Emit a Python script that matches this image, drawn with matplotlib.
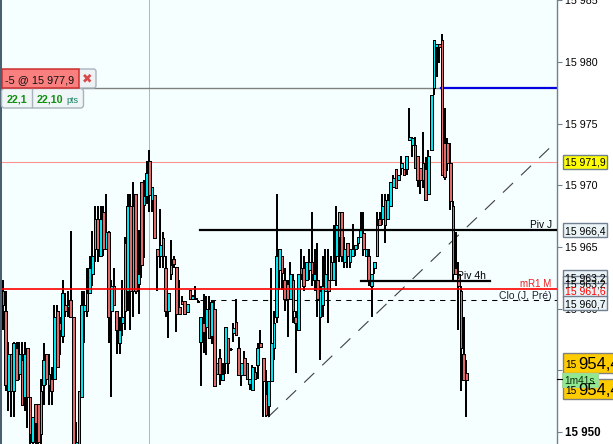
import matplotlib
matplotlib.use("Agg")
import matplotlib.pyplot as plt
import numpy as np
from matplotlib.patches import Rectangle, FancyBboxPatch

# prices are written minus this base
BASE = 15000

opens = [961.4, 959.8, 953.3, 956.3, 953.3, 956.8, 954.7, 955.8, 952.8, 956.8,
         952.8, 949.2, 952.3, 952.3, 949.8, 953.8, 956.3, 954.7, 954.3, 954.3,
         959.8, 958.8, 957.8, 960.3, 960.1, 960.7, 959.3, 948.5, 948.5, 952.8,
         959.8, 959.8, 961.3, 962.8, 964.8, 967.3, 964.3, 967.8, 964.8, 966.2,
         959.8, 961.8, 959.8, 957.2, 958.8, 959.8, 961.4, 968.3, 961.4, 969.3,
         962.0, 970.3, 968.4, 969.1, 972.0, 968.8, 969.2, 964.8, 964.3, 965.7,
         963.3, 959.8, 962.8, 964.0, 963.4, 960.1, 960.6, 960.6, 959.7, 961.5,
         960.8, 960.9, 960.6, 957.3, 958.8, 958.5, 960.0, 957.8, 960.0, 954.7,
         956.0, 954.2, 955.6, 957.6, 956.7, 958.0, 958.9, 956.8, 954.6, 956.0,
         955.6, 953.9, 953.4, 954.9, 955.4, 957.2, 956.0, 953.1, 952.1, 954.1,
         956.8, 959.3, 963.1, 964.3, 962.3, 962.0, 960.8, 962.3, 959.3, 958.3,
         963.3, 963.3, 962.3, 963.1, 963.8, 962.3, 962.3, 959.3, 960.3, 961.4,
         962.3, 962.3, 962.3, 964.3, 965.8, 967.8, 963.8, 965.3, 963.8, 964.3,
         964.8, 965.3, 965.8, 966.1, 964.3, 964.3, 961.8, 963.3, 964.3, 967.3,
         967.3, 968.8, 967.3, 968.3, 969.9, 971.3, 970.4, 971.4, 971.3, 971.3,
         973.7, 973.3, 973.3, 972.4, 971.4, 970.4, 971.3, 969.3, 972.9, 977.9,
         981.2, 981.5, 981.8, 973.4, 973.4, 971.8, 968.3, 963.3, 962.8, 961.4,
         956.3, 954.8]
highs = [962.3, 961.4, 957.3, 956.3, 957.3, 957.3, 957.3, 957.3, 957.3, 956.8,
         952.8, 951.2, 952.3, 952.3, 954.3, 957.2, 956.3, 956.3, 955.3, 960.3,
         960.3, 959.3, 962.3, 961.3, 961.4, 966.3, 959.3, 950.8, 953.3, 961.4,
         961.4, 963.3, 964.3, 966.3, 968.3, 968.3, 968.3, 968.3, 969.3, 966.3,
         962.3, 963.3, 959.8, 959.3, 962.3, 965.8, 969.3, 969.3, 970.3, 969.3,
         966.4, 970.3, 970.4, 972.0, 972.9, 969.9, 969.2, 964.8, 968.1, 966.2,
         964.3, 961.3, 965.6, 964.3, 963.4, 962.3, 961.0, 960.6, 960.4, 961.5,
         961.1, 961.8, 960.7, 959.3, 961.2, 961.0, 961.0, 960.6, 960.6, 955.6,
         956.7, 955.6, 958.5, 957.6, 956.8, 958.8, 960.8, 957.7, 955.6, 956.6,
         955.6, 954.3, 955.4, 955.3, 957.2, 958.3, 956.0, 955.0, 954.1, 963.3,
         959.8, 969.3, 964.8, 964.3, 963.3, 962.3, 963.8, 962.8, 959.8, 962.8,
         964.8, 964.3, 963.8, 964.8, 967.8, 964.8, 965.3, 961.8, 964.3, 964.8,
         964.8, 964.3, 966.8, 968.3, 967.8, 967.8, 965.8, 965.3, 964.8, 966.9,
         965.2, 965.8, 967.8, 967.8, 964.8, 964.8, 962.8, 963.8, 967.8, 967.8,
         969.3, 969.3, 969.3, 970.3, 970.8, 971.3, 970.8, 972.4, 971.3, 972.4,
         976.3, 973.9, 973.9, 972.4, 971.4, 974.3, 972.3, 972.9, 977.3, 981.8,
         981.5, 981.5, 982.3, 976.3, 973.8, 973.4, 968.7, 966.2, 963.8, 961.8,
         959.3, 955.8]
lows = [958.3, 953.3, 951.7, 951.2, 951.2, 954.2, 954.2, 952.2, 951.7, 950.3,
        949.0, 949.0, 948.5, 948.5, 949.0, 952.2, 953.8, 952.2, 952.2, 954.3,
        955.3, 956.2, 957.2, 959.3, 959.3, 959.3, 948.3, 948.5, 948.5, 952.8,
        957.2, 959.3, 961.4, 961.8, 963.8, 963.8, 964.3, 964.3, 964.8, 957.2,
        952.8, 960.3, 956.3, 956.3, 957.8, 958.3, 959.8, 958.3, 959.3, 961.2,
        959.6, 962.5, 964.1, 968.5, 967.8, 967.8, 965.7, 961.4, 963.3, 963.3,
        959.3, 957.6, 962.3, 963.3, 958.1, 959.6, 960.4, 959.6, 959.7, 960.8,
        960.8, 960.8, 960.5, 953.7, 956.4, 956.2, 957.6, 957.1, 953.7, 954.7,
        953.8, 954.2, 954.7, 954.7, 956.6, 957.3, 957.9, 954.6, 953.7, 954.5,
        954.3, 953.4, 953.4, 954.3, 954.3, 956.9, 951.2, 951.2, 951.2, 954.1,
        955.8, 958.8, 961.5, 961.5, 959.8, 957.7, 960.8, 958.8, 954.8, 958.3,
        962.3, 961.4, 962.3, 962.3, 961.8, 961.4, 959.3, 955.8, 959.3, 961.4,
        958.8, 962.3, 962.3, 961.8, 963.8, 963.8, 963.3, 963.3, 963.3, 964.3,
        964.3, 964.8, 965.8, 964.3, 964.3, 961.8, 959.3, 962.8, 964.3, 966.8,
        966.8, 965.3, 967.3, 968.3, 969.9, 969.8, 970.4, 970.8, 970.8, 970.8,
        973.7, 972.3, 971.4, 969.9, 969.3, 969.8, 968.8, 969.3, 972.8, 977.3,
        978.8, 979.9, 970.8, 970.4, 971.2, 968.0, 962.2, 962.8, 958.3, 953.3,
        954.2, 951.2]
closes = [960.3, 953.8, 956.3, 953.3, 957.2, 954.2, 956.3, 952.2, 956.3, 952.8,
          949.8, 951.2, 950.7, 949.2, 953.3, 955.8, 954.3, 953.8, 953.3, 959.3,
          955.3, 958.3, 961.3, 959.8, 960.3, 959.3, 948.3, 949.2, 953.3, 960.3,
          960.3, 961.3, 963.3, 964.3, 967.3, 964.8, 967.3, 964.8, 966.2, 959.3,
          961.8, 960.3, 958.3, 958.3, 959.3, 965.3, 968.3, 961.4, 968.3, 961.4,
          962.8, 963.5, 969.1, 971.0, 969.2, 969.9, 965.7, 964.3, 965.2, 964.3,
          959.8, 961.3, 963.5, 963.6, 959.6, 959.6, 960.4, 959.6, 960.4, 960.8,
          961.0, 960.8, 960.5, 959.3, 958.1, 960.0, 957.6, 960.5, 953.7, 955.6,
          954.7, 954.7, 958.5, 955.6, 956.7, 958.4, 957.9, 954.6, 955.6, 954.6,
          954.3, 954.3, 955.3, 954.3, 956.8, 956.9, 954.1, 951.4, 954.1, 957.2,
          958.8, 964.3, 964.8, 962.9, 960.8, 960.8, 962.8, 959.8, 958.8, 962.8,
          962.8, 961.8, 963.8, 963.8, 962.8, 962.8, 960.8, 961.4, 961.8, 962.8,
          961.4, 963.8, 963.8, 966.8, 967.8, 964.3, 964.8, 964.3, 964.8, 964.8,
          965.2, 965.8, 966.4, 964.8, 964.8, 962.3, 962.8, 963.8, 966.8, 966.8,
          968.3, 966.8, 968.8, 970.3, 970.6, 969.8, 970.8, 971.8, 970.8, 972.4,
          973.9, 973.8, 971.4, 970.4, 970.4, 971.8, 968.8, 972.4, 977.3, 981.8,
          981.5, 981.2, 970.8, 970.7, 971.8, 968.7, 962.8, 962.8, 961.8, 956.8,
          954.2, 954.2]

price_ticks = [15950, 15955, 15960, 15965, 15970, 15975, 15980, 15985]

# order / pivot levels
order_price = 15977.9
tp_price = 15971.9
piv_j = 15966.4
piv_4h = 15962.2
mr1_m = 15961.6
clo_pre = 15960.7
cursor_bar = 53.9
trend_bars = [97.8, 203.0]
trend_prices = [15951.2, 15973.3]

fig = plt.figure(figsize=(6.13, 4.44), dpi=100, facecolor="white")
plt.rcParams["font.family"] = ["Liberation Sans", "DejaVu Sans"]

ax = fig.add_axes([2 / 613, 0, 555 / 613, 1])
ax.set_facecolor("#F5FFFF")
ax.set_xlim(-0.37, 204.43)
ax.set_ylim(15949.02, 15985.03)

o = np.array(opens) + BASE
h = np.array(highs) + BASE
l = np.array(lows) + BASE
c = np.array(closes) + BASE
x = np.arange(len(o))
colors = ["#00E5F0" if cc >= oo else "#E06A6A" for oo, cc in zip(o, c)]

# level lines, under the candles
ax.axvline(cursor_bar, color="#F0A0A0", lw=0.75, zorder=1)
ax.axhline(tp_price, color="#FF9090", lw=0.75, zorder=1)
ax.plot([-1, 161.3], [order_price, order_price], color="#808080", lw=1, zorder=1)
ax.plot([161.6, 205], [order_price, order_price], color="#0000E0", lw=1.6, zorder=2)
ax.plot(trend_bars, trend_prices, color="#404040", lw=0.8, dashes=(12.5, 10), zorder=1)
ax.plot([72.7, 205], [clo_pre, clo_pre], color="black", lw=0.75, dashes=(5, 5), zorder=1)

# candles, each drawn as wick then body so later ones sit on earlier ones
for i in x:
    ax.plot([i, i], [l[i], h[i]], color="black", lw=1.44, zorder=3 + i * 0.001,
            solid_capstyle="butt", snap=True)
    ax.add_patch(Rectangle((i - 0.5, min(o[i], c[i])), 1.0, abs(c[i] - o[i]),
                           facecolor=colors[i], edgecolor="black", lw=0.72,
                           zorder=3 + i * 0.001, antialiased=False))

# lines over the candles
ax.axhline(mr1_m, color="#FF0000", lw=1.2, zorder=5)
ax.plot([72.7, 205], [piv_j, piv_j], color="black", lw=1.6, zorder=5)
ax.plot([132.1, 179.7], [piv_4h, piv_4h], color="black", lw=1.6, zorder=5)

for s in ["top", "left", "bottom"]:
    ax.spines[s].set_visible(False)
ax.spines["right"].set_color("#708090")
ax.spines["right"].set_linewidth(1)
ax.xaxis.set_visible(False)
ax.yaxis.tick_right()
ax.set_yticks(price_ticks)
ax.set_yticklabels([f"{t // 1000} {t % 1000:03d}" for t in price_ticks], fontsize=7.7)
ax.tick_params(axis="y", length=3.5, width=0.8, color="#708090", pad=2)
ax.get_yticklabels()[0].set_fontweight("bold")
ax.get_yticklabels()[0].set_fontsize(8.3)

# overlay in pixels for labels, tags and the order widget
ov = fig.add_axes([0, 0, 1, 1], zorder=10)
ov.set_xlim(0, 613)
ov.set_ylim(444, 0)
ov.axis("off")
ov.patch.set_visible(False)

ov.add_patch(Rectangle((0, 0), 1.5, 444, color="#4A6070", lw=0))


def tag(y, text, bg="#EAF3F6", fg="black"):
    ov.add_patch(Rectangle((562.5, y - 7), 44, 14, facecolor=bg, edgecolor="#708090", lw=1))
    ov.text(565, y, text, fontsize=7.5, color=fg, va="center_baseline")


tag(277, "15 963,2")
tag(283, "15 963,2")
tag(161.5, "15 971,9", bg="#FFFF00")
tag(230, "15 966,4")
tag(290, "15 961,6", fg="#FF0000")
tag(303, "15 960,7")

# the two gold tags, digits run off the edge
for y in [362.5, 389]:
    ov.add_patch(Rectangle((562.5, y - 10), 60, 20, facecolor="#FFCC00", edgecolor="#808080", lw=1))
    ov.text(565, y + 1, "15", fontsize=7.3, va="center_baseline")
    ov.text(578.5, y, "954,4", fontsize=12, va="center_baseline")
ov.add_patch(Rectangle((562, 373), 36, 14, facecolor="#90E890", edgecolor="#A0D8A0", lw=0.8))
ov.text(564, 380, "1m41s", fontsize=7.3, va="center_baseline", color="#103010")
ov.plot([557, 562], [379, 379], color="black", lw=0.8)

ov.text(552, 224, "Piv J", fontsize=7.3, ha="right", va="center_baseline")
ov.text(457, 275, "Piv 4h", fontsize=7.5, va="center_baseline")
ov.text(551, 283, "mR1 M", fontsize=7, ha="right", va="center_baseline", color="#F02020")
ov.text(552, 294.5, "Clo (J, Pré)", fontsize=7.5, ha="right", va="center_baseline", color="#202030")

# order widget
ov.add_patch(FancyBboxPatch((3, 90), 79, 16.5, boxstyle="round,pad=1.5,rounding_size=3",
                            facecolor="#F0F5F7", edgecolor="#A8B4BC", lw=1))
ov.plot([31.5, 31.5], [89, 107], color="#A8B4BC", lw=1)
ov.text(6.5, 98.5, "22,1", fontsize=7.7, fontweight="bold", color="#109010", va="center_baseline")
ov.text(36.5, 98.5, "22,10", fontsize=7.7, fontweight="bold", color="#109010", va="center_baseline")
ov.text(66, 99, "pts", fontsize=6.5, color="#108060", va="center_baseline")
ov.add_patch(FancyBboxPatch((79, 70), 16, 17, boxstyle="round,pad=1,rounding_size=2.5",
                            facecolor="#EEF2F4", edgecolor="#A8B4BC", lw=1))
ov.text(87.5, 78.5, "\u2716", fontsize=9, color="#D84848", ha="center", va="center",
        family="DejaVu Sans")
ov.add_patch(Rectangle((2, 69.5), 76.5, 18.5, facecolor="#FA8080", edgecolor="#CC3030", lw=1.1))
ov.text(40, 79, "-5 @ 15 977,9", fontsize=7.8, ha="center", va="center_baseline", color="#101010")

fig.savefig("out.png", dpi=100)
